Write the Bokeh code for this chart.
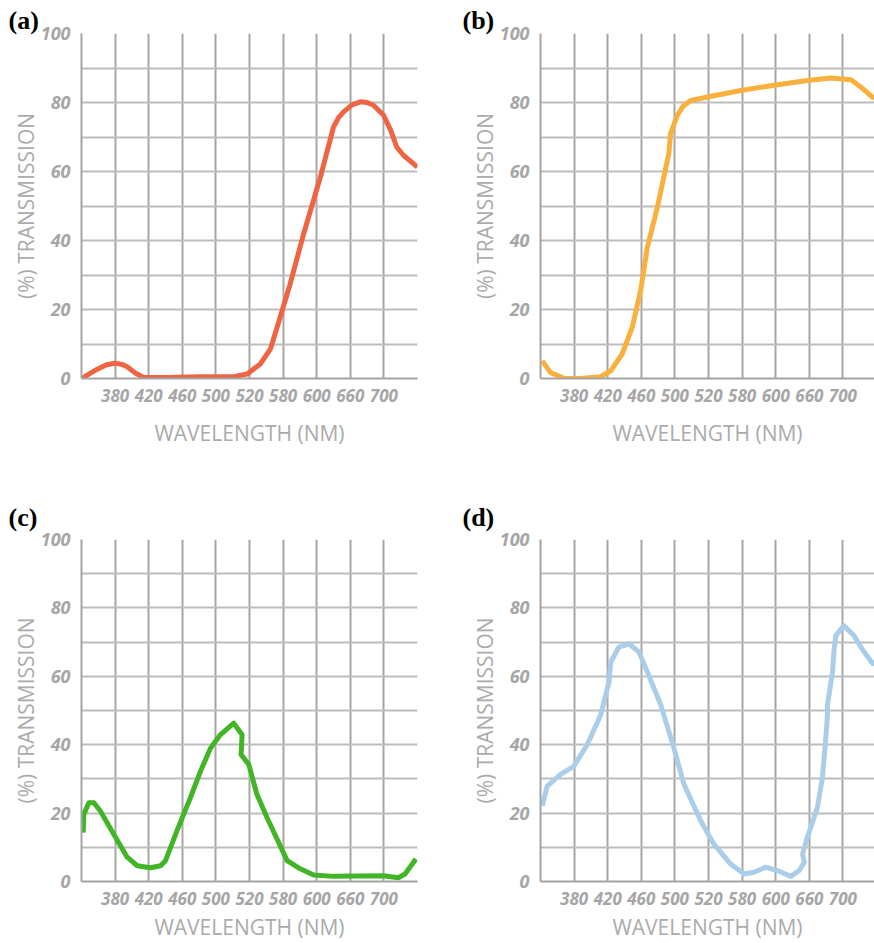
from bokeh.plotting import figure
from bokeh.models import FixedTicker, Range1d
from bokeh.layouts import column, row
from bokeh.embed import file_html
from bokeh.resources import INLINE

# ---- data (x = position of the curve along the evenly spaced wavelength grid) ----
TICK_LABELS = ["380", "420", "460", "500", "520", "580", "600", "660", "700"]
Y_TICKS = [0, 20, 40, 60, 80, 100]

A_POS = [0, 0.47, 0.75, 1.0, 1.2, 1.36, 1.6, 1.85, 2.55, 3.54, 4.53, 4.93, 5.32, 5.62, 5.82,
         6.21, 6.61, 7.11, 7.50, 7.65, 7.80, 8.05, 8.30, 8.50, 8.69, 8.99, 9.20, 9.38, 9.58, 10]
A_VAL = [0, 2.7, 4.0, 4.4, 4.1, 3.4, 1.6, 0.3, 0.3, 0.5, 0.5, 1.3, 4.2, 8.5, 14.8,
         27.4, 41.9, 58.4, 72.9, 75.6, 77.3, 79.3, 80.2, 80.0, 79.2, 76.3, 72.0, 67.1, 64.7, 61.3]

B_POS = [0.05, 0.3, 0.69, 1.19, 1.79, 2.09, 2.43, 2.73, 2.98, 3.18, 3.48, 3.82, 3.87, 4.07,
         4.25, 4.47, 4.97, 5.96, 6.95, 7.94, 8.64, 9.24, 9.53, 9.93]
B_VAL = [5.1, 1.7, 0.1, 0, 0.5, 2.2, 7.1, 14.8, 25.5, 38, 49.7, 65.2, 71, 76.3,
         79.0, 80.6, 81.6, 83.5, 85, 86.4, 87.1, 86.6, 84.5, 81.1]

C_POS = [0.05, 0.07, 0.22, 0.37, 0.56, 0.96, 1.36, 1.66, 2.05, 2.35, 2.5, 2.84, 3.24, 3.54,
         3.84, 4.13, 4.53, 4.78, 4.75, 4.98, 5.22, 5.52, 6.12, 6.51, 6.91, 7.5, 8.99, 9.43,
         9.63, 9.95]
C_VAL = [14.3, 19.7, 23, 23, 20.6, 13.8, 7.1, 4.6, 4.0, 4.6, 6.1, 14.8, 24.5, 32.2,
         39, 42.9, 46.3, 42.9, 37.1, 34.2, 25.5, 18.7, 6.1, 3.7, 1.9, 1.5, 1.7, 1.1,
         2.2, 6.6]

D_POS = [0.05, 0.2, 0.6, 0.99, 1.39, 1.79, 2.04, 2.09, 2.33, 2.63, 2.93, 3.18, 3.58, 3.97,
         4.27, 4.77, 5.16, 5.66, 6.06, 6.36, 6.7, 7.05, 7.45, 7.70, 7.85, 7.8, 7.94, 8.24,
         8.39, 8.49, 8.54, 8.54, 8.69, 8.74, 8.79, 9.03, 9.33, 9.63, 9.93]
D_VAL = [22.1, 27.9, 31.3, 33.7, 40, 48.7, 58.4, 64.2, 68.5, 69.5, 67.1, 61.3, 51.6, 39,
         28.4, 17.7, 10.9, 5.1, 2.2, 2.7, 4.2, 3.2, 1.5, 3.2, 5.6, 8.0, 12.9, 21.6,
         30.3, 41.9, 48.7, 51.6, 61.3, 68.1, 71.9, 74.8, 71.9, 67.1, 63.2]

PANELS = [
    ("(a)", A_POS, A_VAL, "#EF6443"),
    ("(b)", B_POS, B_VAL, "#F9B03C"),
    ("(c)", C_POS, C_VAL, "#42B526"),
    ("(d)", D_POS, D_VAL, "#AACDEA"),
]

TICK_COLOR = "#a6a6a6"
TITLE_COLOR = "#ababab"


def make_panel(idx, tag, xs, ys, color):
    top = idx < 2
    left = idx % 2 == 0
    width = 440 if left else 434
    height = 490 if top else 453
    x_end = 10 if left else 9.94
    p = figure(width=width, height=height,
               x_range=Range1d(0, x_end), y_range=Range1d(0, 100),
               output_backend="svg", toolbar_location=None,
               min_border_left=81 if left else 100,
               min_border_right=23 if left else 0,
               min_border_top=33 if top else 49,
               min_border_bottom=112 if top else 0)
    p.outline_line_color = None
    p.background_fill_color = "white"
    p.border_fill_color = "white"

    # panel tag
    p.title.text = tag
    p.title.align = "left"
    p.title.offset = -73 if left else -78
    p.title.standoff = -3 if top else 15
    p.title.text_font = "Liberation Serif"
    p.title.text_font_style = "bold"
    p.title.text_font_size = "26px"
    p.title.text_color = "black"
    p.title.vertical_align = "bottom"

    # axes
    p.xaxis.ticker = FixedTicker(ticks=list(range(1, 10)))
    p.xaxis.major_label_overrides = {i + 1: t for i, t in enumerate(TICK_LABELS)}
    p.yaxis.ticker = FixedTicker(ticks=Y_TICKS)
    for ax in (p.xaxis[0], p.yaxis[0]):
        ax.major_tick_line_color = None
        ax.minor_tick_line_color = None
        ax.axis_line_color = "#a4a4a4"
        ax.axis_line_width = 2
        ax.major_label_text_font = "Open Sans"
        ax.major_label_text_font_style = "bold italic"
        ax.major_label_text_color = TICK_COLOR
        ax.axis_label_text_font = "Open Sans"
        ax.axis_label_text_font_style = "normal"
        ax.axis_label_text_font_size = "21px"
        ax.axis_label_text_color = TITLE_COLOR
    p.xaxis.major_label_text_font_size = "17px"
    p.xaxis.major_label_standoff = 4
    p.xaxis.axis_label = "WAVELENGTH (NM)"
    p.xaxis.axis_label_standoff = 14 if top else 5
    p.yaxis.major_label_text_font_size = "18px"
    p.yaxis.major_label_standoff = 5
    p.yaxis.axis_label = "(%) TRANSMISSION"
    p.yaxis.axis_label_standoff = -2

    # grid
    p.xgrid.ticker = FixedTicker(ticks=list(range(0, 11)))
    p.ygrid.ticker = FixedTicker(ticks=list(range(0, 101, 10)))
    p.xgrid.grid_line_color = "#a6a6a6"
    p.xgrid.grid_line_width = 2
    p.ygrid.grid_line_color = "#bdbdbd"
    p.ygrid.grid_line_width = 2

    p.line(xs, ys, line_color=color, line_width=5, line_join="round")
    return p


figs = [make_panel(i, *pnl) for i, pnl in enumerate(PANELS)]
layout = column(row(figs[0], figs[1]), row(figs[2], figs[3]))

open("out.html", "w").write(file_html(layout, INLINE))
